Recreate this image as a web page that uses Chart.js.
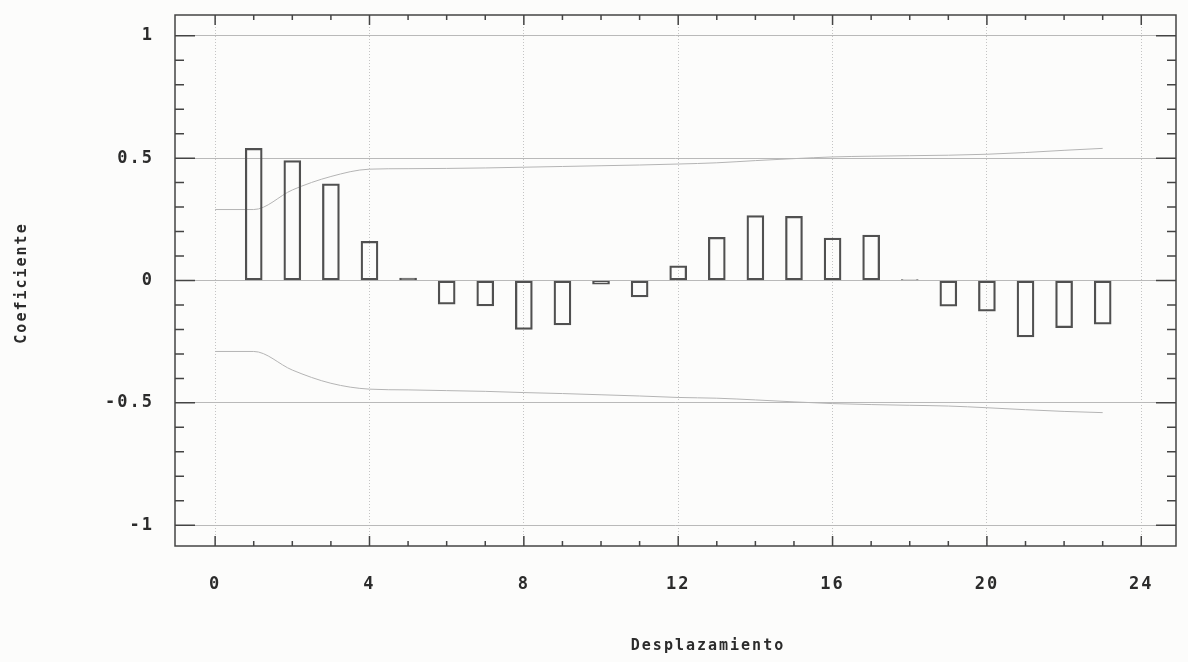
<!DOCTYPE html>
<html>
<head>
<meta charset="utf-8">
<script src="https://cdn.jsdelivr.net/npm/chart.js@4/dist/chart.umd.min.js"></script>
<style>
  html, body { margin: 0; padding: 0; background: #fcfcfb; }
</style>
</head>
<body>
<canvas id="chartCanvas" width="1188" height="662"></canvas>
<script>
// Autocorrelation per lag
const lags         = [1, 2, 3, 4, 5, 6, 7, 8, 9, 10, 11, 12, 13, 14, 15, 16, 17, 18, 19, 20, 21, 22, 23];
const coefficients = [0.54, 0.49, 0.395, 0.16, 0.01, -0.097, -0.104, -0.2, -0.182, -0.015, -0.067, 0.06,
                      0.176, 0.265, 0.262, 0.173, 0.186, 0.004, -0.105, -0.125, -0.231, -0.193, -0.178];

// Confidence limits
const bandLags  = [0, 1, 2, 3, 4, 5, 6, 7, 8, 9, 10, 11, 12, 13, 14, 15, 16, 17, 18, 19, 20, 21, 22, 23];
const upperBand = [0.29, 0.29, 0.37, 0.425, 0.455, 0.457, 0.458, 0.46, 0.463, 0.466, 0.469, 0.472, 0.476,
                   0.481, 0.49, 0.498, 0.505, 0.508, 0.51, 0.512, 0.516, 0.523, 0.532, 0.54];
const lowerBand = [-0.29, -0.29, -0.366, -0.42, -0.444, -0.447, -0.45, -0.453, -0.458, -0.462, -0.467, -0.472, -0.478,
                   -0.481, -0.488, -0.496, -0.503, -0.507, -0.51, -0.513, -0.52, -0.528, -0.535, -0.54];

const xTickLabels = [0, 4, 8, 12, 16, 20, 24];
const yTickLabels = [-1, -0.5, 0, 0.5, 1];
const xTitle = 'Desplazamiento';
const yTitle = 'Coeficiente';

const INK = '#2b2b2b';
const FONT = "'DejaVu Sans Mono', monospace";

// frame, inner tick marks and axis titles, like the old plotting package
const frameTicks = {
  id: 'frameTicks',
  beforeDraw(chart) {
    chart.ctx.letterSpacing = '2px';
  },
  afterDraw(chart) {
    const { ctx, chartArea: a, scales: { x, y } } = chart;
    ctx.save();
    ctx.strokeStyle = '#444';
    ctx.lineWidth = 1.5;
    ctx.strokeRect(a.left, a.top, a.right - a.left, a.bottom - a.top);
    ctx.beginPath();
    for (let v = 0; v <= 24; v++) {
      const px = x.getPixelForValue(v);
      const len = v % 4 === 0 ? 10 : 5;
      ctx.moveTo(px, a.bottom); ctx.lineTo(px, a.bottom - len);
      ctx.moveTo(px, a.top);    ctx.lineTo(px, a.top + len);
    }
    for (let i = -10; i <= 10; i++) {
      const py = y.getPixelForValue(i / 10);
      const len = i % 5 === 0 ? 20 : 9;
      ctx.moveTo(a.left, py);  ctx.lineTo(a.left + len, py);
      ctx.moveTo(a.right, py); ctx.lineTo(a.right - len, py);
    }
    ctx.stroke();

    ctx.fillStyle = INK;
    ctx.font = "bold 15px " + FONT;
    ctx.letterSpacing = '2px';
    ctx.textAlign = 'center';
    ctx.textBaseline = 'middle';
    ctx.fillText(xTitle, 708, 646);
    ctx.translate(22, 283);
    ctx.rotate(-Math.PI / 2);
    ctx.fillText(yTitle, 0, 0);
    ctx.restore();
  },
};

const ctx = document.getElementById('chartCanvas').getContext('2d');
new Chart(ctx, {
  type: 'bar',
  data: {
    datasets: [
      {
        type: 'line',
        label: 'Upper',
        data: bandLags.map((l, i) => ({ x: l, y: upperBand[i] })),
        borderColor: '#b4b4b4',
        borderWidth: 1,
        pointRadius: 0,
        cubicInterpolationMode: 'monotone',
        order: 2,
      },
      {
        type: 'line',
        label: 'Lower',
        data: bandLags.map((l, i) => ({ x: l, y: lowerBand[i] })),
        borderColor: '#b4b4b4',
        borderWidth: 1,
        pointRadius: 0,
        cubicInterpolationMode: 'monotone',
        order: 2,
      },
      {
        label: 'Coeficiente',
        data: lags.map((l, i) => ({ x: l, y: coefficients[i] })),
        backgroundColor: 'rgba(0,0,0,0)',
        borderColor: '#505050',
        borderWidth: 1.6,
        borderSkipped: false,
        barThickness: 17,
        order: 1,
      },
    ],
  },
  options: {
    responsive: false,
    animation: false,
    layout: { padding: { top: 15, right: 12, left: 0, bottom: 0 } },
    plugins: {
      legend: { display: false },
      tooltip: { enabled: false },
    },
    scales: {
      x: {
        type: 'linear',
        offset: false,
        min: -1.04,
        max: 24.9,
        afterBuildTicks: s => { s.ticks = xTickLabels.map(v => ({ value: v })); },
        afterFit: s => { s.height = 116; s.paddingLeft = 0; s.paddingRight = 0; },
        grid: { color: '#c4c4c4', lineWidth: 1, drawTicks: false, offset: false },
        border: { display: false, dash: [1, 2] },
        ticks: { color: INK, font: { family: FONT, size: 17, weight: 'bold' }, padding: 28, maxRotation: 0 },
      },
      y: {
        min: -1.085,
        max: 1.085,
        afterBuildTicks: s => { s.ticks = yTickLabels.map(v => ({ value: v })); },
        afterFit: s => { s.width = 175; s.paddingTop = 0; s.paddingBottom = 0; },
        grid: { color: '#b9b9b9', lineWidth: 1, drawTicks: false },
        border: { display: false },
        ticks: {
          color: INK,
          font: { family: FONT, size: 17, weight: 'bold' },
          padding: 21,
          callback: v => String(v),
        },
      },
    },
  },
  plugins: [frameTicks],
});
</script>
</body>
</html>
